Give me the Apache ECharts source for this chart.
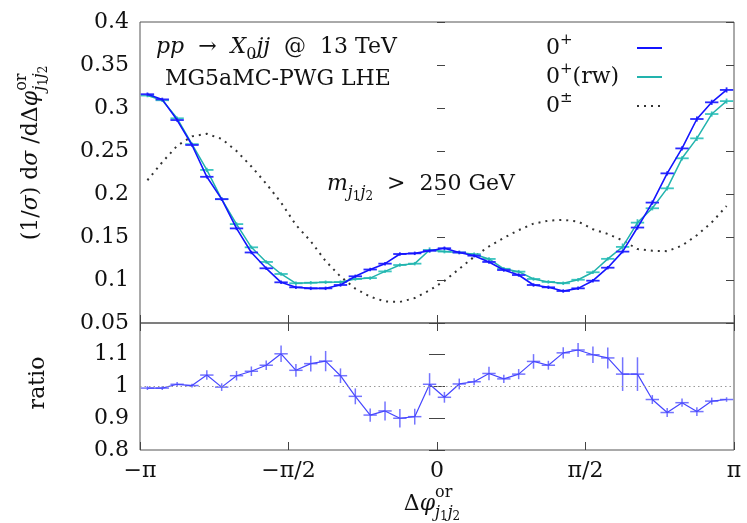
<!DOCTYPE html>
<html><head><meta charset="utf-8">
<script src="https://cdn.jsdelivr.net/npm/echarts@6.0.0/dist/echarts.min.js"></script>
<style>html,body{margin:0;padding:0;background:#fff}#c{width:747px;height:523px}</style>
</head><body><div id="c"></div>
<script>
// ---------- data ----------
const nBins = 40;
const xTickLabels = ['−π', '−π/2', '0', 'π/2', 'π'];
const seriesNames = ['0+', '0+(rw)', '0±'];
// 0+ (blue)
const sm0p = [0.316, 0.310, 0.286, 0.257, 0.220, 0.194, 0.160, 0.132, 0.1136, 0.0973,
  0.0915, 0.0903, 0.0903, 0.0942, 0.1043, 0.1122, 0.1190, 0.1302, 0.131, 0.134,
  0.1369, 0.132, 0.1283, 0.121, 0.1116, 0.1058, 0.0942, 0.0915, 0.0872, 0.0903,
  0.0992, 0.1143, 0.133, 0.161, 0.190, 0.224, 0.253, 0.2872, 0.3066, 0.321];
const sm0pErr = [0.002, 0.002, 0.002, 0.002, 0.002, 0.002, 0.002, 0.002, 0.002, 0.002,
  0.002, 0.002, 0.002, 0.002, 0.002, 0.002, 0.002, 0.002, 0.002, 0.002,
  0.002, 0.002, 0.002, 0.002, 0.002, 0.002, 0.002, 0.002, 0.002, 0.002,
  0.002, 0.002, 0.002, 0.0025, 0.0025, 0.0025, 0.0025, 0.003, 0.003, 0.003];
// 0+ (rw) (cyan)
const sm0pRw = [0.3145, 0.309, 0.288, 0.258, 0.228, 0.194, 0.165, 0.138, 0.121, 0.107,
  0.0962, 0.0968, 0.0974, 0.0976, 0.1012, 0.1022, 0.1100, 0.1174, 0.119, 0.1349,
  0.133, 0.132, 0.1300, 0.1245, 0.1130, 0.1097, 0.1012, 0.0978, 0.0962, 0.1003,
  0.1090, 0.1246, 0.1385, 0.1667, 0.1834, 0.2066, 0.2415, 0.2647, 0.293, 0.308];
const sm0pRwErr = [0.002, 0.002, 0.002, 0.002, 0.0025, 0.002, 0.002, 0.002, 0.002, 0.002,
  0.002, 0.002, 0.002, 0.002, 0.002, 0.002, 0.002, 0.002, 0.002, 0.003,
  0.002, 0.002, 0.002, 0.002, 0.002, 0.002, 0.002, 0.002, 0.002, 0.002,
  0.002, 0.002, 0.004, 0.004, 0.0025, 0.0025, 0.0025, 0.003, 0.003, 0.003];
// 0± (dotted)
const cp0pm = [0.216, 0.237, 0.256, 0.267, 0.270, 0.264, 0.250, 0.232, 0.212, 0.190,
  0.164, 0.145, 0.122, 0.104, 0.090, 0.0806, 0.075, 0.0745, 0.079, 0.088,
  0.099, 0.113, 0.127, 0.139, 0.149, 0.158, 0.1655, 0.169, 0.170, 0.168,
  0.159, 0.1535, 0.146, 0.136, 0.134, 0.1335, 0.140, 0.152, 0.167, 0.186];
// ratio panel
const ratioVals = [0.995, 0.995, 1.007, 1.003, 1.036, 0.998, 1.034, 1.048, 1.067, 1.103,
  1.051, 1.072, 1.080, 1.034, 0.969, 0.910, 0.923, 0.900, 0.905, 1.007,
  0.966, 1.008, 1.015, 1.041, 1.024, 1.039, 1.079, 1.067, 1.106, 1.115,
  1.100, 1.090, 1.039, 1.039, 0.959, 0.918, 0.949, 0.921, 0.954, 0.959];
const ratioErr = [0.006, 0.006, 0.007, 0.006, 0.015, 0.012, 0.015, 0.015, 0.015, 0.026,
  0.020, 0.025, 0.032, 0.023, 0.025, 0.021, 0.030, 0.029, 0.025, 0.035,
  0.017, 0.017, 0.011, 0.021, 0.013, 0.016, 0.023, 0.014, 0.018, 0.022,
  0.026, 0.033, 0.053, 0.053, 0.014, 0.014, 0.013, 0.014, 0.011, 0.007];

// ---------- styling ----------
const FONT = '"DejaVu Serif", serif';
const BLUE = '#1414ff', CYAN = '#22b3ad', RATIO = '#4646ff', RATIO_ERR = '#7474ff';
const TXT = '#111';
const PI = Math.PI, binW = 2 * PI / nBins;
const centers = Array.from({length: nBins}, (_, i) => -PI + (i + 0.5) * binW);
const pair = a => centers.map((x, i) => [x, a[i]]);
const tri = (a, e) => centers.map((x, i) => [x, a[i], e[i]]);

function errRender(color, lw) {
  return function (params, api) {
    const x = api.value(0), y = api.value(1), e = api.value(2);
    const hw = binW * 0.45;
    const l = api.coord([x - hw, y]), r = api.coord([x + hw, y]);
    const t = api.coord([x, y + e]), b = api.coord([x, y - e]);
    return {type: 'group', children: [
      {type: 'line', shape: {x1: l[0], y1: l[1], x2: r[0], y2: r[1]}, style: {stroke: color, lineWidth: lw}},
      {type: 'line', shape: {x1: t[0], y1: t[1], x2: b[0], y2: b[1]}, style: {stroke: color, lineWidth: lw}}
    ]};
  };
}

// math-like text helper
const mctx = document.createElement('canvas').getContext('2d');
function mathText(tokens, base) {
  let x = 0, mark = 0, maxX = 0; const ch = [];
  for (const tk of tokens) {
    const s = tk.s || base;
    const font = (tk.it ? 'italic ' : '') + s + 'px ' + FONT;
    if (tk.mark) mark = x;
    if (tk.back) x = mark;
    mctx.font = font;
    const w = mctx.measureText(tk.t).width;
    ch.push({type: 'text', x: x, y: (tk.dy || 0) - 0.33 * s, silent: true,
      style: {text: tk.t, font: font, fill: TXT, align: 'left', verticalAlign: 'middle'}});
    x += w; maxX = Math.max(maxX, x);
  }
  return {ch, width: maxX};
}
function placed(tokens, base, x, y, opt) {
  opt = opt || {};
  const m = mathText(tokens, base);
  const shift = opt.center ? -m.width / 2 : 0;
  m.ch.forEach(c => c.x += shift);
  return {type: 'group', x: x, y: y, rotation: opt.rotation || 0, children: m.ch};
}

const yLabelTokens = [
  {t: '(1/'}, {t: 'σ', it: 1}, {t: ') d'}, {t: 'σ', it: 1}, {t: ' /d'}, {t: 'Δ'}, {t: 'φ', it: 1},
  {t: 'or', s: 16, dy: -12, mark: 1},
  {t: 'j', s: 16, it: 1, dy: 6, back: 1}, {t: '1', s: 12, dy: 9}, {t: 'j', s: 16, it: 1, dy: 6}, {t: '2', s: 12, dy: 9}
];
const xLabelTokens = [
  {t: 'Δ'}, {t: 'φ', it: 1},
  {t: 'or', s: 16, dy: -14, mark: 1},
  {t: 'j', s: 16, it: 1, dy: 6, back: 1}, {t: '1', s: 12, dy: 9}, {t: 'j', s: 16, it: 1, dy: 6}, {t: '2', s: 12, dy: 9}
];
const procTokens = [
  {t: 'pp', it: 1}, {t: '  →  '}, {t: 'X', it: 1}, {t: '0', s: 16, dy: 5}, {t: 'jj', it: 1}, {t: '  @  13 TeV'}
];
const genTokens = [{t: 'MG5aMC-PWG LHE'}];
const cutTokens = [
  {t: 'm', it: 1}, {t: 'j', s: 16, it: 1, dy: 6}, {t: '1', s: 12, dy: 9}, {t: 'j', s: 16, it: 1, dy: 6}, {t: '2', s: 12, dy: 9},
  {t: '  >  250 GeV'}
];

const xFmt = v => xTickLabels[Math.round(v / (PI / 2)) + 2] || '';
const xBase = {type: 'value', min: -PI, max: PI, interval: PI / 2,
  splitLine: {show: false}, axisLine: {show: false},
  axisTick: {show: true, inside: true, length: 8, lineStyle: {color: '#444', width: 1}},
  axisLabel: {show: false}};
const yTick = {show: true, inside: true, length: 8, lineStyle: {color: '#444', width: 1}};
const yLab = {show: true, margin: 11, fontSize: 22, fontFamily: FONT, color: TXT};
const noSymbol = {color: 'rgba(0,0,0,0)', borderColor: 'rgba(0,0,0,0)', borderWidth: 0, opacity: 0};

const option = {
  animation: false,
  backgroundColor: '#fff',
  grid: [
    {left: 140, top: 22, width: 594, height: 301, show: true, borderColor: '#555', borderWidth: 1,
      backgroundColor: 'rgba(0,0,0,0)', containLabel: false, outerBoundsMode: 'none'},
    {left: 140, top: 323, width: 594, height: 127, show: true, borderColor: '#555', borderWidth: 1,
      backgroundColor: 'rgba(0,0,0,0)', containLabel: false, outerBoundsMode: 'none'}
  ],
  xAxis: [
    Object.assign({}, xBase, {gridIndex: 0, position: 'bottom'}),
    Object.assign({}, xBase, {gridIndex: 1, position: 'bottom',
      axisLabel: {show: true, margin: 10, fontSize: 22, fontFamily: FONT, color: TXT, formatter: xFmt,
        showMinLabel: true, showMaxLabel: true, hideOverlap: false}}),
    Object.assign({}, xBase, {gridIndex: 1, position: 'top'})
  ],
  yAxis: [
    {type: 'value', gridIndex: 0, position: 'left', min: 0.05, max: 0.4, interval: 0.05,
      splitLine: {show: false}, axisLine: {show: false}, axisTick: yTick,
      axisLabel: Object.assign({}, yLab, {formatter: v => String(+v.toFixed(2)), showMinLabel: true, showMaxLabel: true})},
    {type: 'value', gridIndex: 0, position: 'right', min: 0.05, max: 0.4, interval: 0.05,
      splitLine: {show: false}, axisLine: {show: false}, axisTick: yTick, axisLabel: {show: false}},
    {type: 'value', gridIndex: 1, position: 'left', min: 0.8, max: 1.2, interval: 0.1,
      splitLine: {show: false}, axisLine: {show: false}, axisTick: yTick,
      axisLabel: Object.assign({}, yLab, {formatter: v => v > 1.15 ? '' : String(+v.toFixed(1)), showMinLabel: true})},
    {type: 'value', gridIndex: 1, position: 'right', min: 0.8, max: 1.2, interval: 0.1,
      splitLine: {show: false}, axisLine: {show: false}, axisTick: yTick, axisLabel: {show: false}}
  ],
  legend: {
    data: seriesNames.map(n => ({name: n, itemStyle: noSymbol})),
    orient: 'vertical', left: 546, top: 33, align: 'right',
    itemWidth: 25, itemHeight: 12, itemGap: 3, selectedMode: false, padding: 0,
    itemStyle: noSymbol,
    formatter: n => ({'0+': '{a|0}{b|+}', '0+(rw)': '{a|0}{b|+}{a|(rw)}', '0±': '{a|0}{b|±}'})[n],
    textStyle: {width: 86, fontFamily: FONT, fontSize: 22, color: TXT,
      rich: {a: {fontFamily: FONT, fontSize: 22, lineHeight: 30, color: TXT, align: 'left'},
             b: {fontFamily: FONT, fontSize: 15, lineHeight: 16, color: TXT, align: 'left', verticalAlign: 'top'}}}
  },
  series: [
    {name: '0±', type: 'line', xAxisIndex: 0, yAxisIndex: 0, data: pair(cp0pm), symbol: 'none',
      lineStyle: {color: '#333', width: 2, type: [2, 5]}, itemStyle: {color: '#333'}, z: 2, silent: true},
    {name: '0+(rw)', type: 'line', xAxisIndex: 0, yAxisIndex: 0, data: pair(sm0pRw), symbol: 'none',
      lineStyle: {color: CYAN, width: 1.5}, itemStyle: {color: CYAN}, z: 3, silent: true},
    {name: 'rwErr', type: 'custom', coordinateSystem: 'cartesian2d', xAxisIndex: 0, yAxisIndex: 0,
      renderItem: errRender('#3cc6c0', 1.8), data: tri(sm0pRw, sm0pRwErr), encode: {x: 0, y: 1}, z: 3, silent: true},
    {name: '0+', type: 'line', xAxisIndex: 0, yAxisIndex: 0, data: pair(sm0p), symbol: 'none',
      lineStyle: {color: BLUE, width: 1.6}, itemStyle: {color: BLUE}, z: 4, silent: true},
    {name: 'smErr', type: 'custom', coordinateSystem: 'cartesian2d', xAxisIndex: 0, yAxisIndex: 0,
      renderItem: errRender('#2a2aff', 1.8), data: tri(sm0p, sm0pErr), encode: {x: 0, y: 1}, z: 4, silent: true},
    {name: 'ratio', type: 'line', xAxisIndex: 1, yAxisIndex: 2, data: pair(ratioVals), symbol: 'none',
      lineStyle: {color: RATIO, width: 1.2}, itemStyle: {color: RATIO}, z: 4, silent: true,
      markLine: {silent: true, symbol: 'none', animation: false, label: {show: false},
        lineStyle: {color: '#999', width: 1, type: [1.5, 3]}, data: [{yAxis: 1}]}},
    {name: 'ratioErr', type: 'custom', coordinateSystem: 'cartesian2d', xAxisIndex: 1, yAxisIndex: 2,
      renderItem: errRender(RATIO_ERR, 1.5), data: tri(ratioVals, ratioErr), encode: {x: 0, y: 1}, z: 3, silent: true}
  ],
  graphic: {elements: [
    placed(yLabelTokens, 22, 39, 153, {center: true, rotation: PI / 2}),
    {type: 'text', x: 38, y: 383, rotation: PI / 2, silent: true,
      style: {text: 'ratio', font: '22px ' + FONT, fill: TXT, align: 'center', verticalAlign: 'middle'}},
    placed(xLabelTokens, 22, 432, 512, {center: true}),
    placed(procTokens, 22, 156, 55),
    placed(genTokens, 22, 165, 87),
    placed(cutTokens, 22, 327, 192)
  ]}
};
const chart = echarts.init(document.getElementById('c'), null, {renderer: 'canvas'});
chart.setOption(option);
</script>
</body></html>
